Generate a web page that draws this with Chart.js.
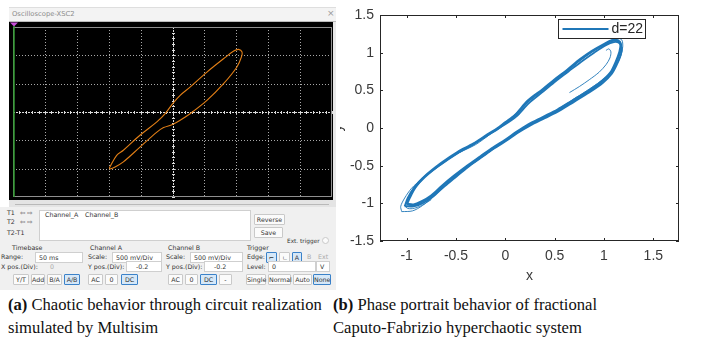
<!DOCTYPE html>
<html>
<head>
<meta charset="utf-8">
<script src="https://cdn.jsdelivr.net/npm/chart.js@4.4.1/dist/chart.umd.min.js"></script>
<style>
body { margin: 0; width: 702px; height: 342px; background: #fff; position: relative; overflow: hidden; }
#left { position: absolute; left: 0; top: 0; width: 340px; height: 292px; background: #fff; z-index: 2; font-family: "DejaVu Sans", sans-serif; }
#left div { position: absolute; white-space: nowrap; }
.lb { font-size: 6.3px; color: #333; line-height: 8px; }
.bx { background: #fff; border: 1px solid #cfcfcf; box-sizing: border-box; font-size: 6.3px; color: #333; line-height: 9px; padding-left: 3px; }
.bt { background: #fbfbfb; border: 1px solid #c9c9c9; box-sizing: border-box; font-size: 6.3px; color: #333; text-align: center; line-height: 9px; border-radius: 1px; }
.on { background: #d6e8f8; border-color: #3b82c9; }
.gr { color: #aaa; }
#scope { position: absolute; left: 9px; top: 22px; background: #000; z-index: 3; }
#phase { position: absolute; left: 330px; top: 0; z-index: 1; }
.cap { position: absolute; top: 293px; font-family: "Liberation Serif", serif; font-size: 16.6px; line-height: 23px; color: #111; white-space: nowrap; }
</style>
</head>
<body>
<div id="left">
  <div style="left:9px;top:7px;width:327px;height:14px;background:#f3f3f3;border-top:1px solid #dedede;"></div>
  <div class="lb" style="left:12px;top:10px;color:#8c8c8c;font-size:6.8px;">Oscilloscope-XSC2</div>
  <div class="lb" style="left:327px;top:9px;color:#999;font-size:9px;">×</div>
  <div style="left:9px;top:21px;width:327px;height:1px;background:#bbb;"></div>
  <div style="left:333px;top:22px;width:3px;height:178px;background:#e9e9e9;"></div>
  <div style="left:9px;top:200px;width:327px;height:7px;background:#e4e4e4;"></div>
  <div style="left:15px;top:204px;width:314px;height:1px;background:#b9b9b9;"></div>
  <div style="left:0;top:207px;width:336px;height:83px;background:#f0f0f0;"></div>
</div>
<canvas id="scope" width="324" height="178"></canvas>
<canvas id="phase" width="372" height="290"></canvas>
<div class="cap" style="left:8px;"><b>(a)</b> Chaotic behavior through circuit realization<br>simulated by Multisim</div>
<div class="cap" style="left:333px;"><b>(b)</b> Phase portrait behavior of fractional<br>Caputo-Fabrizio hyperchaotic system</div>
<script>
// oscilloscope trace (volts, 500 mV/div on both channels)
const scopeX = [-0.99, -0.875, -0.77, -0.51, -0.245, -0.115, 0, 0.12, 0.275, 0.54, 0.8, 0.96, 1.035, 1.09,
                1.08, 1.01, 0.8, 0.54, 0.275, 0.12, 0, -0.14, -0.245, -0.51, -0.77, -0.9, -0.98, -0.99];
const scopeY = [-0.99, -0.765, -0.675, -0.41, -0.175, -0.03, 0.145, 0.295, 0.44, 0.705, 0.94, 1.075, 1.105, 1.06,
                0.97, 0.795, 0.5, 0.205, -0.03, -0.145, -0.22, -0.275, -0.355, -0.62, -0.88, -0.97, -1.005, -0.99];
const scopeDivX = [-2, -1.5, -1, -0.5, 0.5, 1, 1.5, 2];
const scopeDivY = [-1, -0.5, 0.5, 1];

// phase portrait, d=22
const orbitAx = [-1.00, -0.97, -0.91, -0.82, -0.65, -0.48, -0.32, -0.18, -0.08, 0.00, 0.10, 0.23, 0.38, 0.50, 0.63, 0.76, 0.88, 1.00, 1.08, 1.14, 1.17,
                 1.16, 1.12, 1.07, 0.97, 0.83, 0.68, 0.53, 0.38, 0.23, 0.11, 0.00, -0.12, -0.25, -0.39, -0.52, -0.64, -0.75, -0.85, -0.93, -1.00];
const orbitAy = [-1.01, -0.92, -0.78, -0.65, -0.47, -0.32, -0.21, -0.09, -0.01, 0.07, 0.17, 0.36, 0.51, 0.64, 0.77, 0.91, 1.02, 1.11, 1.16, 1.16, 1.11,
                 1.01, 0.87, 0.74, 0.61, 0.48, 0.36, 0.24, 0.14, 0.04, -0.06, -0.16, -0.26, -0.38, -0.51, -0.64, -0.77, -0.90, -0.98, -1.02, -1.01];
const orbitBx = [-1.02, -0.99, -0.93, -0.84, -0.66, -0.49, -0.33, -0.20, -0.09, 0.00, 0.11, 0.24, 0.39, 0.51, 0.64, 0.77, 0.90, 1.02, 1.10, 1.15, 1.18,
                 1.17, 1.13, 1.08, 0.99, 0.85, 0.70, 0.55, 0.40, 0.25, 0.12, 0.01, -0.11, -0.24, -0.38, -0.51, -0.63, -0.74, -0.84, -0.93, -1.02];
const orbitBy = [-1.04, -0.93, -0.80, -0.67, -0.49, -0.34, -0.22, -0.11, -0.02, 0.05, 0.15, 0.33, 0.49, 0.62, 0.75, 0.88, 1.00, 1.10, 1.14, 1.13, 1.07,
                 0.97, 0.84, 0.72, 0.60, 0.47, 0.35, 0.23, 0.13, 0.03, -0.07, -0.17, -0.27, -0.39, -0.52, -0.66, -0.79, -0.92, -1.00, -1.04, -1.04];
const orbitCx = [-1.05, -1.06, -1.02, -0.95, -0.85, -0.70, -0.50, -0.30, -0.15, 0.00, 0.20, 0.45, 0.70, 0.90, 1.05, 1.13, 1.18, 1.19,
                 1.17, 1.12, 1.04, 0.90, 0.70, 0.45, 0.20, 0.00, -0.25, -0.50, -0.72, -0.84, -0.94, -1.05];
const orbitCy = [-1.11, -1.04, -0.93, -0.80, -0.68, -0.52, -0.35, -0.22, -0.08, 0.06, 0.31, 0.58, 0.84, 1.03, 1.15, 1.19, 1.17, 1.08,
                 0.96, 0.83, 0.70, 0.56, 0.39, 0.18, 0.00, -0.17, -0.40, -0.64, -0.90, -1.03, -1.10, -1.11];
const hookX = [1.02, 1.05, 1.07, 1.06, 1.02, 0.95, 0.85, 0.75, 0.65];
const hookY = [1.03, 1.05, 1.01, 0.93, 0.84, 0.74, 0.64, 0.55, 0.47];
const tipX = [-0.85, -0.95, -1.00, -1.00, -0.94, -0.85, -0.75];
const tipY = [-0.70, -0.86, -0.98, -1.06, -1.07, -1.03, -0.95];
const xTicks = [-1, -0.5, 0, 0.5, 1, 1.5];
const yTicks = [-1.5, -1, -0.5, 0, 0.5, 1, 1.5];

const toPts = (xs, ys) => xs.map((x, i) => ({x: x, y: ys[i]}));

// --- left: scope screen ---
const scopeGrid = {
  id: 'scopeGrid',
  beforeDatasetsDraw(chart) {
    const {ctx, chartArea: a, scales: {x, y}} = chart;
    ctx.save();
    ctx.lineWidth = 1;
    ctx.strokeStyle = '#a8a8a8';
    ctx.setLineDash([1, 2]);
    ctx.beginPath();
    scopeDivX.forEach(v => {
      const px = Math.round(x.getPixelForValue(v)) + 0.5;
      ctx.moveTo(px, a.top); ctx.lineTo(px, a.bottom);
    });
    scopeDivY.forEach(v => {
      const py = Math.round(y.getPixelForValue(v)) + 0.5;
      ctx.moveTo(a.left, py); ctx.lineTo(a.right, py);
    });
    ctx.stroke();
    // centre axes with minor ticks
    const cx = Math.round(x.getPixelForValue(0)) + 0.5;
    const cy = Math.round(y.getPixelForValue(0)) + 0.5;
    ctx.strokeStyle = '#dcdcdc';
    ctx.setLineDash([2, 1]);
    ctx.beginPath();
    ctx.moveTo(cx, a.top); ctx.lineTo(cx, a.bottom);
    ctx.moveTo(a.left, cy); ctx.lineTo(a.right, cy);
    ctx.stroke();
    ctx.setLineDash([]);
    ctx.beginPath();
    for (let v = -2.5; v <= 2.5001; v += 0.1) {
      const px = Math.round(x.getPixelForValue(v)) + 0.5;
      ctx.moveTo(px, cy - 1.5); ctx.lineTo(px, cy + 1.5);
    }
    for (let v = -1.5; v <= 1.5001; v += 0.1) {
      const py = Math.round(y.getPixelForValue(v)) + 0.5;
      ctx.moveTo(cx - 1.5, py); ctx.lineTo(cx + 1.5, py);
    }
    ctx.stroke();
    // frame
    ctx.strokeStyle = '#8f8f8f';
    ctx.strokeRect(a.left + 0.5, a.top + 0.5, a.width - 1, a.height - 1);
    // channel cursor line + marker
    ctx.strokeStyle = '#2f9a2f';
    ctx.lineWidth = 1.5;
    ctx.beginPath();
    ctx.moveTo(a.left + 1, a.top - 1); ctx.lineTo(a.left + 1, a.bottom);
    ctx.stroke();
    ctx.fillStyle = '#c84fd8';
    ctx.beginPath();
    ctx.moveTo(a.left - 3, 0.5); ctx.lineTo(a.left + 5, 0.5); ctx.lineTo(a.left + 1, 4.5);
    ctx.closePath();
    ctx.fill();
    ctx.restore();
  }
};

new Chart(document.getElementById('scope'), {
  type: 'scatter',
  data: {
    datasets: [{
      data: toPts(scopeX, scopeY),
      showLine: true,
      borderColor: '#e27f16',
      borderWidth: 1.1,
      pointRadius: 0,
      tension: 0.35
    }]
  },
  options: {
    responsive: false,
    animation: false,
    layout: {padding: {left: 4, right: 1, top: 5, bottom: 3}},
    plugins: {legend: {display: false}, tooltip: {enabled: false}},
    scales: {
      x: {display: false, min: -2.5, max: 2.5},
      y: {display: false, min: -1.5, max: 1.5}
    }
  },
  plugins: [scopeGrid]
});

// --- left: control panel ---
const panel = document.getElementById('left');
function put(cls, text, x, y, w, h) {
  const d = document.createElement('div');
  d.className = cls;
  d.textContent = text;
  d.style.left = x + 'px';
  d.style.top = y + 'px';
  if (w) d.style.width = w + 'px';
  if (h) d.style.height = h + 'px';
  panel.appendChild(d);
  return d;
}
put('lb', 'T1', 7, 209); put('lb', '⇦ ⇨', 20, 209);
put('lb', 'T2', 7, 218); put('lb', '⇦ ⇨', 20, 218);
put('lb', 'T2-T1', 7, 229);
put('bx', '', 39, 210, 212, 31);
put('lb', 'Channel_A', 45, 211); put('lb', 'Channel_B', 85, 211);
put('bt', 'Reverse', 254, 214, 31, 11);
put('bt', 'Save', 254, 227, 29, 11);
put('lb', 'Ext. trigger', 287, 237).style.fontSize = '5.8px';
put('bt', '', 322, 237, 7, 7).style.borderRadius = '50%';

put('lb', 'Timebase', 12, 244); put('lb', 'Channel A', 90, 244);
put('lb', 'Channel B', 168, 244); put('lb', 'Trigger', 247, 244);

put('lb', 'Range:', 1, 253); put('bx', '50 ms', 35, 252, 48, 11);
put('lb', 'Scale:', 88, 253); put('bx', '500 mV/Div', 112, 252, 50, 11);
put('lb', 'Scale:', 166, 253); put('bx', '500 mV/Div', 190, 252, 53, 11);
put('lb', 'Edge:', 247, 253);
put('bt on', '⌐', 266, 252, 11, 11); put('bt', 'ㄴ', 279, 252, 11, 11);
put('bt on', 'A', 292, 252, 10, 11); put('lb gr', 'B', 307, 253); put('lb gr', 'Ext', 318, 253);

put('lb', 'X pos.(Div):', 1, 263); put('lb gr', '0', 50, 263);
put('lb', 'Y pos.(Div):', 88, 263); put('bx', '-0.2', 126, 261, 36, 11).style.paddingLeft = '9px';
put('lb', 'Y pos.(Div):', 166, 263); put('bx', '-0.2', 204, 261, 39, 11).style.paddingLeft = '9px';
put('lb', 'Level:', 247, 263); put('bx', '0', 268, 261, 48, 11); put('bx', 'V', 316, 261, 14, 11);

put('bt', 'Y/T', 13, 274, 16, 11); put('bt', 'Add', 31, 274, 14, 11);
put('bt', 'B/A', 47, 274, 15, 11); put('bt on', 'A/B', 64, 274, 16, 11);
put('bt', 'AC', 88, 274, 15, 11); put('bt', '0', 105, 274, 13, 11); put('bt on', 'DC', 121, 274, 17, 11);
put('bt', 'AC', 168, 274, 15, 11); put('bt', '0', 185, 274, 13, 11); put('bt on', 'DC', 200, 274, 17, 11);
put('bt', '-', 219, 274, 13, 11);
put('bt', 'Single', 246, 274, 20, 11); put('bt', 'Normal', 268, 274, 23, 11);
put('bt', 'Auto', 293, 274, 19, 11); put('bt on', 'None', 313, 274, 18, 11);

// --- right: phase portrait ---
const blue = '#1f77b8';
const axisFont = {family: '"Liberation Sans", Arial, sans-serif', size: 14};
const axisColor = '#3a3a3a';

const boxAndLegend = {
  id: 'boxAndLegend',
  afterDatasetsDraw(chart) {
    const {ctx, chartArea: a, scales: {x, y}} = chart;
    ctx.save();
    ctx.strokeStyle = '#262626';
    ctx.lineWidth = 1;
    ctx.strokeRect(Math.round(a.left) + 0.5, Math.round(a.top) + 0.5, Math.round(a.width) - 1, Math.round(a.height) - 1);
    ctx.beginPath();
    x.ticks.forEach(t => {
      const px = Math.round(x.getPixelForValue(t.value)) + 0.5;
      ctx.moveTo(px, a.bottom); ctx.lineTo(px, a.bottom - 3);
      ctx.moveTo(px, a.top); ctx.lineTo(px, a.top + 3);
    });
    y.ticks.forEach(t => {
      const py = Math.round(y.getPixelForValue(t.value)) + 0.5;
      ctx.moveTo(a.left, py); ctx.lineTo(a.left + 3, py);
      ctx.moveTo(a.right, py); ctx.lineTo(a.right - 3, py);
    });
    ctx.stroke();
    // legend box, top right inside the axes
    const lx = Math.round(a.right) - 120.5, ly = Math.round(a.top) + 4.5;
    ctx.fillStyle = '#fff';
    ctx.fillRect(lx, ly, 87, 19);
    ctx.strokeRect(lx, ly, 87, 19);
    ctx.strokeStyle = blue;
    ctx.lineWidth = 2;
    ctx.beginPath();
    ctx.moveTo(lx + 4, ly + 9.5); ctx.lineTo(lx + 50, ly + 9.5);
    ctx.stroke();
    ctx.fillStyle = '#262626';
    ctx.font = '14px "Liberation Sans", Arial, sans-serif';
    ctx.textBaseline = 'middle';
    ctx.fillText(chart.data.datasets[0].label, lx + 53, ly + 10);
    ctx.restore();
  }
};

const line = (label, xs, ys, w) => ({
  label: label, data: toPts(xs, ys), showLine: true, fill: false,
  borderColor: blue, backgroundColor: blue, borderWidth: w, pointRadius: 0, tension: 0.3
});

new Chart(document.getElementById('phase'), {
  type: 'scatter',
  data: {
    datasets: [
      line('d=22', orbitAx, orbitAy, 2.8),
      line('', orbitBx, orbitBy, 1.8),
      line('', orbitCx, orbitCy, 0.9),
      line('', hookX, hookY, 0.9),
      line('', tipX, tipY, 0.9)
    ]
  },
  options: {
    responsive: false,
    animation: false,
    layout: {padding: {top: 15, right: 23, left: 0, bottom: 0}},
    plugins: {legend: {display: false}, tooltip: {enabled: false}},
    scales: {
      x: {
        min: -1.27, max: 1.76,
        afterBuildTicks: s => { s.ticks = xTicks.map(v => ({value: v})); },
        afterFit: s => { s.height = 49; },
        grid: {display: false, drawTicks: false},
        border: {display: false},
        ticks: {padding: 7, font: axisFont, color: axisColor, callback: v => String(v)},
        title: {display: true, text: 'x', font: axisFont, color: axisColor, padding: {top: 0, bottom: 5}}
      },
      y: {
        min: -1.5, max: 1.5,
        afterBuildTicks: s => { s.ticks = yTicks.map(v => ({value: v})); },
        afterFit: s => { s.width = 50; },
        grid: {display: false, drawTicks: false},
        border: {display: false},
        ticks: {padding: 6, font: axisFont, color: axisColor, callback: v => String(v)},
        title: {display: true, text: 'y', font: axisFont, color: axisColor, padding: {top: 0, bottom: 0}}
      }
    }
  },
  plugins: [boxAndLegend]
});
</script>
</body>
</html>
